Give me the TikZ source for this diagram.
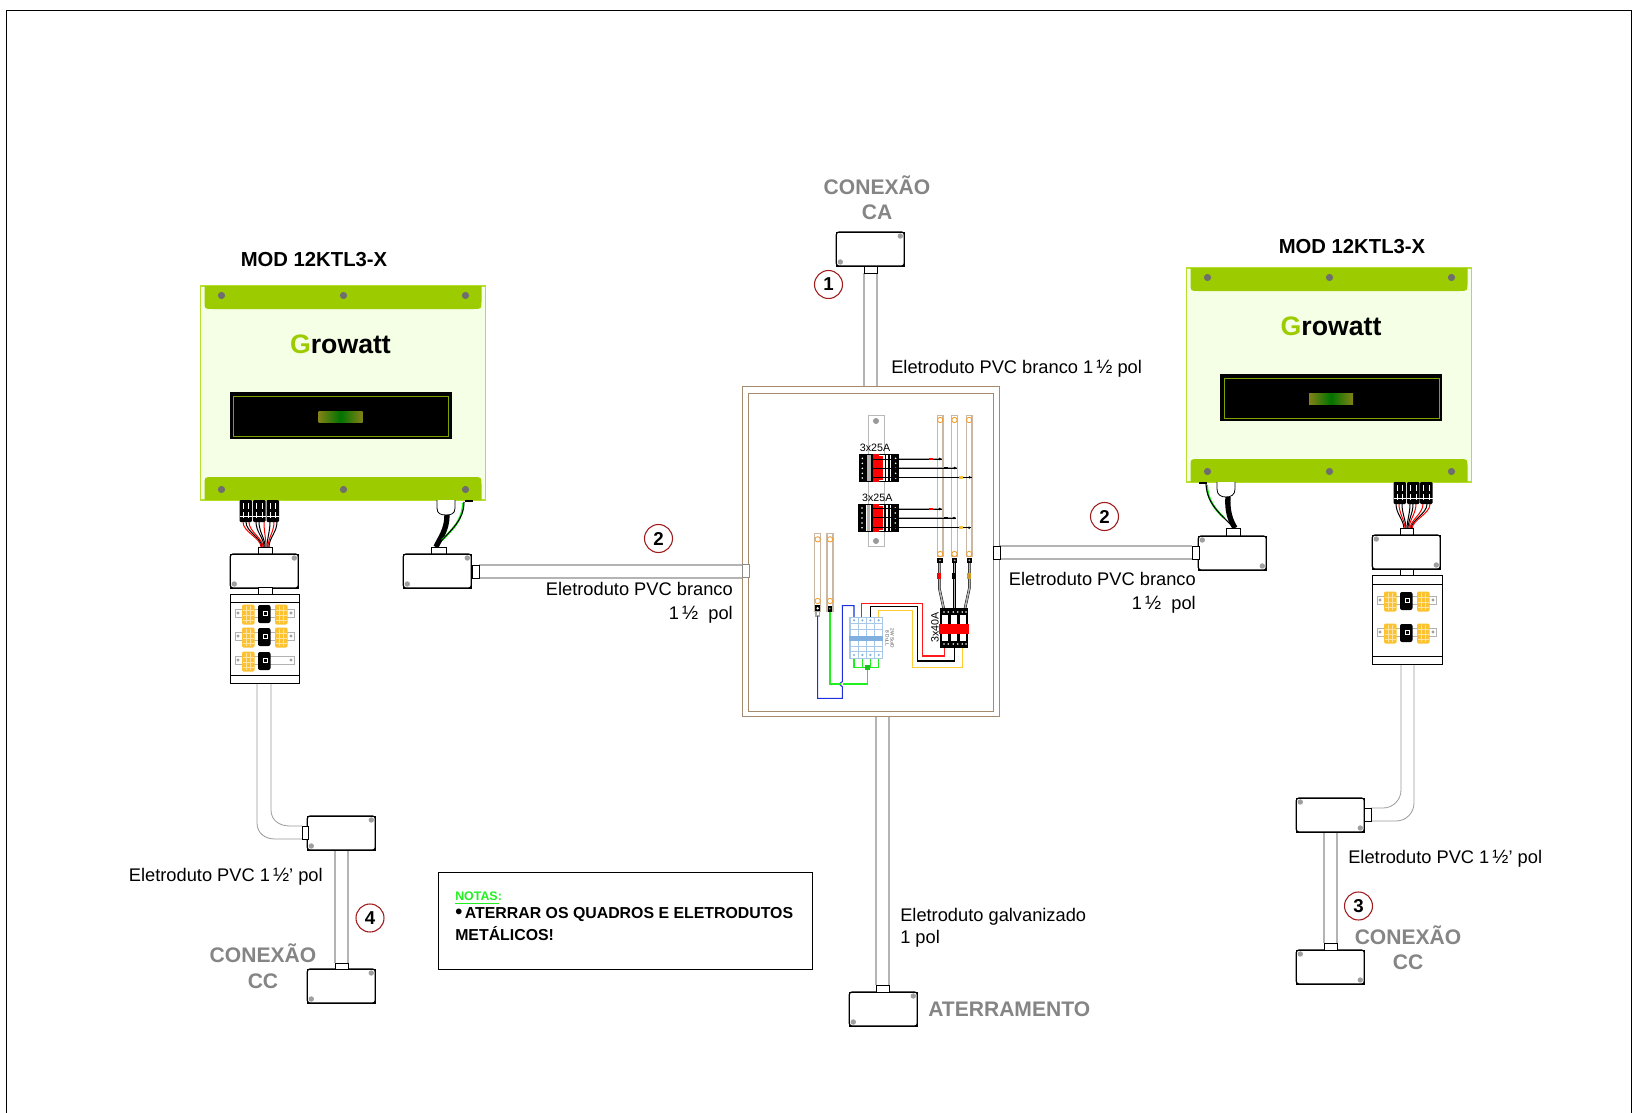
\documentclass[tikz,border=0pt]{standalone}
\usepackage{fontspec}
\setmainfont{Liberation Sans}
\definecolor{bandg}{HTML}{9CCC00}
\definecolor{paleg}{HTML}{F5FFE6}
\definecolor{edgeg}{HTML}{B5E030}
\definecolor{dotg}{HTML}{6E6E6E}
\definecolor{condg}{HTML}{B4B4B4}
\definecolor{greyt}{HTML}{858585}
\definecolor{panelb}{HTML}{A58A6E}
\definecolor{barb}{HTML}{C8B8A4}
\definecolor{orng}{HTML}{F59A23}
\definecolor{yel}{HTML}{FDC230}
\definecolor{lblue}{HTML}{A8C8E8}
\definecolor{mblue}{HTML}{80B0E0}
\definecolor{darkr}{HTML}{A01C1C}
\definecolor{wred}{HTML}{FF2020}
\definecolor{wyel}{HTML}{FFCC33}
\definecolor{wgreen}{HTML}{20F020}
\definecolor{wblue}{HTML}{2030E0}
\newcommand{\half}{{\fontsize{14.5}{14.5}\selectfont ½}}
\tikzset{
  lbl/.style={font=\fontsize{13.7}{16}\selectfont,inner sep=0pt},
  lblL/.style={lbl,anchor=west},
  lblR/.style={lbl,anchor=east},
  greylbl/.style={font=\fontsize{15.8}{18}\selectfont\bfseries,text=greyt,inner sep=0pt},
  modlbl/.style={font=\fontsize{15.2}{18}\selectfont\bfseries,inner sep=0pt},
  numc/.style={circle,draw=darkr,line width=.8pt,minimum size=21pt,inner sep=0pt,font=\fontsize{14}{14}\selectfont\bfseries,fill=white},
  cond/.style={draw=condg,line width=.9pt},
  condthin/.style={draw=condg!85!black,line width=.6pt},
  glandst/.style={draw=black,line width=.6pt,fill=white},
  brd/.style={draw=black,line width=.5pt},
}
% junction box: dots top-right + bottom-left
\newcommand{\jboxA}[2]{\begin{scope}[shift={(#1-.7,#2)}]
 \fill[white] (0,0) rectangle (68,34);
 \draw[line width=.3pt] (0,0) rectangle (68,34);
 \draw[line width=.9pt,rounded corners=2pt] (0,0) rectangle (68,34);
 \fill[gray!75] (64,4) circle (2.7); \fill[gray!75] (4,30) circle (2.7);
 \end{scope}}
\newcommand{\jboxB}[2]{\begin{scope}[shift={(#1-.7,#2)}]
 \fill[white] (0,0) rectangle (68,34);
 \draw[line width=.3pt] (0,0) rectangle (68,34);
 \draw[line width=.9pt,rounded corners=2pt] (0,0) rectangle (68,34);
 \fill[gray!75] (4,4) circle (2.7); \fill[gray!75] (64,30) circle (2.7);
 \end{scope}}
% inverter: x, y, x offset of the front
\newcommand{\inverter}[3]{\begin{scope}[shift={(#1,#2)}]
 \fill[paleg] (0,0) rectangle (285,214);
 \draw[edgeg,line width=.8pt] (0,0) rectangle (285,214);
 \fill[bandg] (4,0) -- (281,0) -- (281,15) .. controls (281,23) .. (273,23) -- (12,23) .. controls (4,23) .. (4,15) -- cycle;
 \fill[bandg] (4,214) -- (281,214) -- (281,199) .. controls (281,191) .. (273,191) -- (12,191) .. controls (4,191) .. (4,199) -- cycle;
 \foreach \xx in {21,143,265}{\fill[dotg] (\xx,9.5) circle (3.6); \fill[dotg] (\xx,203.5) circle (3.6);}
 \node[inner sep=0pt,font=\fontsize{20}{22}\selectfont\bfseries] at (140+#3,58) {\textcolor{bandg}{G}rowatt};
 \fill[black] (29+#3,106) rectangle (251+#3,153);
 \draw[bandg!80!black,line width=.5pt] (33+#3,110) rectangle (248+#3,150);
 \shade[left color=black!40!olive!70!white,right color=black!40!olive!70!white,middle color=green!45!black] (118+#3,125) rectangle (162+#3,136);
 \end{scope}}
% string box row: x, y, list of yellow terminal offsets
\newcommand{\railrow}[3]{\begin{scope}[shift={(#1,#2)}]
 \draw[gray!60,line width=.7pt,fill=white] (0,0) rectangle (59,8);
 \fill[gray!75] (3,4) circle (1.6); \fill[gray!75] (56,4) circle (1.6);
 \foreach \xx in {#3}{
  \fill[yel,rounded corners=1pt] (\xx,-4.5) rectangle +(12.5,20);
  \draw[yel!45!white,line width=.25pt] (\xx+4,-3) -- +(0,17) (\xx+8.5,-3) -- +(0,17) (\xx+1,1) -- +(10.5,0) (\xx+1,6) -- +(10.5,0) (\xx+1,11) -- +(10.5,0);
 }
 \fill[black,rounded corners=1.5pt] (23,-4) rectangle (35.5,14);
 \fill[white] (28,1.5) rectangle (33,6.5);
 \fill[black] (29,2.5) rectangle (32,5.5);
 \end{scope}}
\newcommand{\mcblock}[2]{\begin{scope}[shift={(#1,#2)}]
 \fill[black,rounded corners=.8pt] (0,0) rectangle (12.5,22);
 \draw[white,line width=.15pt] (3.5,3) -- (3.5,9) (9,3) -- (9,9) (3.5,12) -- (3.5,18) (9,12) -- (9,18) (0,16) -- (12.5,16);
 \end{scope}}
\newcommand{\wirepath}[1]{\draw[black,line width=1.9pt] #1; \draw[gray!60,line width=1.2pt] #1;}
\begin{document}
\begin{tikzpicture}[x=.75pt,y=-.75pt]
\useasboundingbox (0,0) rectangle (1636,1113);
\fill[white] (0,0) rectangle (1636,1113);
\draw[black,line width=.7pt] (6,1113) -- (6,10.5) -- (1631,10.5) -- (1631,1113);

%%% conduits
\draw[cond] (864,273) -- (864,386) (877,273) -- (877,386);
\draw[cond] (479,565) -- (742,565) (479,578) -- (742,578);
\draw[cond] (1000,546) -- (1192,546) (1000,559) -- (1192,559);
\draw[cond] (876,716) -- (876,985) (889,716) -- (889,985);
\draw[condthin] (257,683) -- (257,823) .. controls (257,833) and (265,839) .. (275,839) -- (302,839);
\draw[condthin] (271,683) -- (271,810) .. controls (271,820) and (279,826) .. (290,826) -- (302,826);
\draw[cond] (335,849) -- (335,963) (348,849) -- (348,963);
\draw[condthin] (1414,664) -- (1414,803) .. controls (1414,813) and (1406,821) .. (1396,821) -- (1371,821);
\draw[condthin] (1401,664) -- (1401,790) .. controls (1401,800) and (1393,808) .. (1383,808) -- (1371,808);
\draw[cond] (1324,832) -- (1324,943) (1337,832) -- (1337,943);

%%% panel
\draw[panelb,line width=.65pt,fill=white] (742,386) rectangle (999,716);
\draw[panelb,line width=.65pt] (748,393) rectangle (993,711);
\draw[gray!90,line width=.5pt,fill=white] (742,564) rectangle (749,577);
\draw[glandst] (993,546) rectangle (1000,559);
\begin{scope}[shift={(730,380)},x=.25pt,y=-.25pt]
 \draw[gray!55,line width=.7pt,fill=white] (416,107) rectangle (463,498);
 \fill[gray!80] (438,123) circle (9); \fill[gray!80] (438,483) circle (9);
 \foreach \xx in {622,665,709}{
  \draw[barb,line width=.9pt,fill=white] (\xx,107) rectangle (\xx+17,530);
  \draw[orng,line width=.6pt] (\xx+8.5,120) circle (8) (\xx+8.5,522) circle (8);
 }
 \foreach \xx in {254,291}{
  \draw[barb,line width=.9pt,fill=white] (\xx,460) rectangle (\xx+18,695);
  \draw[orng,line width=.6pt] (\xx+9,478) circle (8) (\xx+9,663) circle (8);
 }
 \foreach \yy/\xe/\xm/\cc in {237/635/604/red,264/680/648/black,292/725/693/yel,387/635/603/red,414/678/648/black,443/723/693/yel}{
  \draw[gray!70,line width=1.1pt] (505,\yy) -- (\xe,\yy);
  \draw[black,line width=.35pt] (505,\yy) -- (\xe,\yy);
  \fill[\cc] (\xm-6,\yy-4) rectangle (\xm+6,\yy+4);
  \fill[black] (\xe-6,\yy) circle (4);
 }
 \foreach \xb/\yb in {386/223,385/372}{
 \begin{scope}[shift={(\xb,\yb)}]
  \fill[black] (0,0) rectangle (122,83);
  \fill[white] (24,3) rectangle (98,80);
  \fill[gray!60] (26,3) rectangle (36,80);
  \fill[black] (38,3) rectangle (44,80);
  \fill[black] (78,3) rectangle (82,80);
  \fill[black] (89,3) rectangle (94,80);
  \fill[red] (44,0) rectangle (62,83);
  \fill[red] (60,5) rectangle (74,78);
  \foreach \ty in {12,27,42,57,71}{\fill[white] (11,\ty) circle (2.6); \fill[white] (111,\ty) circle (2.6);}
  \foreach \ty in {14,41,69}{\draw[black,line width=.6pt] (44,\ty) -- (122,\ty);}
 \end{scope}}
 \wirepath{(628,540) -- (628,625) -- (641,685)}
 \wirepath{(673,540) -- (673,685)}
 \wirepath{(718,540) -- (718,625) -- (705,685)}
 \fill[red] (622,578) rectangle (634,598);
 \fill[black] (667,578) rectangle (679,598);
 \fill[yel!80!black] (712,578) rectangle (724,598);
 \foreach \xx in {630,674,718}{\fill[black] (\xx-8,533) rectangle (\xx+8,550); \fill[gray!60] (\xx,541) circle (3);}
 \fill[black] (255,675) rectangle (271,695); \fill[white] (263,685) circle (4);
 \draw[gray!70,line width=.8pt,fill=white] (258,695) rectangle (268,708);
 \fill[black] (293,678) rectangle (306,695); \fill[gray] (299,686) circle (3);
 \draw[red!90,line width=.8pt] (395,713) -- (395,670) -- (578,670) -- (578,828) -- (643,828) -- (643,805);
 \draw[black,line width=.8pt] (421,713) -- (421,680) -- (562,680) -- (562,843) -- (673,843) -- (673,805);
 \draw[wyel,line width=.8pt] (445,713) -- (445,691) -- (547,691) -- (547,862) -- (698,862) -- (698,805);
 \draw[wblue,line width=.8pt] (372,713) -- (372,677) -- (337,677) -- (337,905) .. controls (326,912) .. (337,920) -- (337,955) -- (263,955) -- (263,708);
 \draw[wgreen,line width=.8pt] (300,695) -- (300,912) -- (332,912);
 \draw[wgreen,line width=.8pt] (340,912) -- (412,912) -- (412,862);
 \draw[wgreen,line width=.8pt] (372,836) -- (372,862) -- (446,862) -- (446,836) (397,836) -- (397,862) (421,836) -- (421,862);
 \fill[wgreen!80!black] (404,854) rectangle (420,870);
 \fill[black] (630,685) rectangle (714,805);
 \foreach \xx in {637,663,689}{\fill[white] (\xx,706) rectangle (\xx+18,782);}
 \fill[red] (628,732) rectangle (716,762);
 \foreach \xx in {642,655,670,683,697,708}{\fill[white] (\xx,696) circle (2.6); \fill[white] (\xx,792) circle (2.6);}
 \draw[lblue,line width=.8pt,fill=white] (360,713) rectangle (458,836);
 \foreach \xx in {385,409,434}{\draw[lblue,line width=.8pt] (\xx,713) -- (\xx,836);}
 \foreach \yy in {730,748,798,815}{\draw[lblue,line width=.7pt] (360,\yy) -- (458,\yy);}
 \fill[mblue] (358,767) rectangle (460,782);
 \foreach \xx in {372,397,421,446}{\fill[mblue] (\xx,721) circle (3.5); \fill[mblue] (\xx,825) circle (3.5);}
 \node[inner sep=0pt,font=\fontsize{8}{8}\selectfont] (b1lab) at (435,203) {3x25A};
 \node[inner sep=0pt,font=\fontsize{8}{8}\selectfont] (b2lab) at (442,352) {3x25A};
 \node[inner sep=0pt,font=\fontsize{8}{8}\selectfont,rotate=90] (b3lab) at (615,743) {3x40A};
 \node[inner sep=0pt,font=\fontsize{3.6}{3.6}\selectfont,text=black!70,rotate=-90] (d1lab) at (472,775) {8 DuLL};
 \node[inner sep=0pt,font=\fontsize{3.6}{3.6}\selectfont,text=black!70,rotate=-90] (d2lab) at (487,775) {2W SuiD};
\end{scope}

%%% inverters
\inverter{200.5}{286}{0}
\inverter{1186.5}{268}{4.5}

%%% left connections
\foreach \xs/\xe/\cc in {243/261/red,246/262/black,249/263/red,256/264/black,259/265/black,264/266/red,270/267/black,274/268/red,277/269/black}{
 \draw[\cc,line width=.75pt] (\xs,522) .. controls (\xs,532) and (\xe,538) .. (\xe,547);}
\mcblock{239.5}{500}\mcblock{253}{500}\mcblock{266.5}{500}
\draw[glandst] (258,547) rectangle (272,554);
\jboxA{231}{554}
\draw[glandst] (258,587) rectangle (272,594);
\draw[brd,line width=.7pt,fill=white] (230,594) rectangle (299,683);
\draw[brd,line width=.7pt] (230,602) -- (299,602) (230,675) -- (299,675);
\railrow{235}{609}{7,40}
\railrow{235}{632}{7,40}
\railrow{235}{656}{7}

% left box with cable
\draw[black,line width=.6pt,fill=white] (437,500) -- (437,508) .. controls (437,514) and (441,515) .. (446,515) .. controls (451,515) and (455,514) .. (455,508) -- (455,500);
\draw[black,line width=4pt] (447,515) .. controls (447,530) and (440,538) .. (436,547);
\draw[wgreen,line width=1.6pt] (463,503) .. controls (463,520) and (452,530) .. (442,540);
\draw[black,line width=.8pt] (464,502) .. controls (464,522) and (448,532) .. (436,547);
\fill[black] (465,500) rectangle (473,502);
\draw[glandst] (431,547) rectangle (446,554);
\jboxA{404}{554}
\draw[glandst] (472,565) rectangle (479,578);

%%% right connections
\foreach \xs/\xe/\cc in {1396/1404/black,1399/1405/red,1402/1406/black,1410/1407/black,1413/1408/black,1416/1409/red,1423/1410/red,1427/1411/black,1430/1412/red}{
 \draw[\cc,line width=.75pt] (\xs,504) .. controls (\xs,514) and (\xe,520) .. (\xe,529);}
\mcblock{1393.5}{482}\mcblock{1407}{482}\mcblock{1420}{482}
\draw[glandst] (1400,528) rectangle (1413,535);
\jboxB{1373}{535}
\draw[glandst] (1400,569) rectangle (1413,575);
\draw[brd,line width=.7pt,fill=white] (1372,575) rectangle (1442,664);
\draw[brd,line width=.7pt] (1372,584) -- (1442,584) (1372,656) -- (1442,656);
\railrow{1377}{596}{7,40}
\railrow{1377}{628}{7,40}

\draw[black,line width=.6pt,fill=white] (1217,482) -- (1217,489) .. controls (1217,495) and (1221,497) .. (1226,497) .. controls (1231,497) and (1235,495) .. (1235,489) -- (1235,482);
\draw[black,line width=4pt] (1228,497) .. controls (1227,510) and (1230,520) .. (1235,528);
\draw[wgreen,line width=1.6pt] (1207,485) .. controls (1207,500) and (1216,510) .. (1224,518);
\draw[black,line width=.8pt] (1206,484) .. controls (1207,505) and (1222,515) .. (1233,527);
\fill[black] (1199,482) rectangle (1207,484);
\draw[glandst] (1226,528) rectangle (1240,536);
\jboxB{1199}{536}
\draw[glandst] (1192,546) rectangle (1199,559);

%%% other boxes
\jboxA{837}{232}
\draw[glandst] (864,266) rectangle (877,273);
\jboxA{850}{992}
\draw[glandst] (876,985) rectangle (889,992);
\jboxA{308}{816}
\draw[glandst] (302,826) rectangle (308,839);
\jboxA{308}{969}
\draw[glandst] (335,963) rectangle (348,969);
\jboxB{1297}{798}
\draw[glandst] (1364,808) rectangle (1371,821);
\draw[black,line width=.6pt] (1324,798) -- (1337,798);
\jboxB{1297}{950}
\draw[glandst] (1324,943) rectangle (1337,950);

%%% numbered circles
\node[numc] (n1) at (828.5,284.5) {1};
\node[numc] (n2a) at (658.5,538.5) {2};
\node[numc] (n2b) at (1104.5,516.5) {2};
\node[numc] (n3) at (1358.5,906) {3};
\node[numc] (n4) at (370,918) {4};

%%% texts
\node[modlbl] (m1) at (314,260) {MOD 12KTL3-X};
\node[modlbl] (m2) at (1352,247) {MOD 12KTL3-X};
\node[greylbl] (ca1) at (877,185) {CONEXÃO};
\node[greylbl] (ca2) at (877,212) {CA};
\node[greylbl] (cc1) at (263,953.5) {CONEXÃO};
\node[greylbl] (cc2) at (263,981) {CC};
\node[greylbl] (cc3) at (1408,935.5) {CONEXÃO};
\node[greylbl] (cc4) at (1408,962) {CC};
\node[greylbl,anchor=west] (at) at (928,1009) {ATERRAMENTO};
\node[lblL] (t1) at (891,369) {Eletroduto PVC branco 1\,\half\ pol};
\node[lblR] (t2) at (733,589) {Eletroduto PVC branco};
\node[lblR] (t3) at (733,615) {1\,\half\ \ pol};
\node[lblR] (t4) at (1196,579) {Eletroduto PVC branco};
\node[lblR] (t5) at (1196,604.5) {1\,\half\ \ pol};
\node[lblR] (t6) at (323,877) {Eletroduto PVC 1\,\half' pol};
\node[lblL] (t7) at (1348,859) {Eletroduto PVC 1\,\half' pol};
\node[lblL] (t8) at (900,917) {Eletroduto galvanizado};
\node[lblL] (t9) at (900,939) {1 pol};

%%% notes
\draw[black,line width=.6pt] (438,872) rectangle (812.5,969);
\node[anchor=west,inner sep=0pt,font=\fontsize{9.3}{10}\selectfont\bfseries,text=wgreen] (nt) at (455,896) {NOTAS:};
\draw[wgreen,line width=.7pt] (455,903) -- (499,903);
\node[anchor=west,inner sep=0pt,font=\fontsize{11.9}{14}\selectfont\bfseries] (n5) at (455,914.5) {{\fontsize{15}{14}\selectfont\raisebox{-.3pt}{•}}\,ATERRAR OS QUADROS E ELETRODUTOS};
\node[anchor=west,inner sep=0pt,font=\fontsize{11.9}{14}\selectfont\bfseries] (n6) at (455,934) {METÁLICOS!};
\end{tikzpicture}
\end{document}
